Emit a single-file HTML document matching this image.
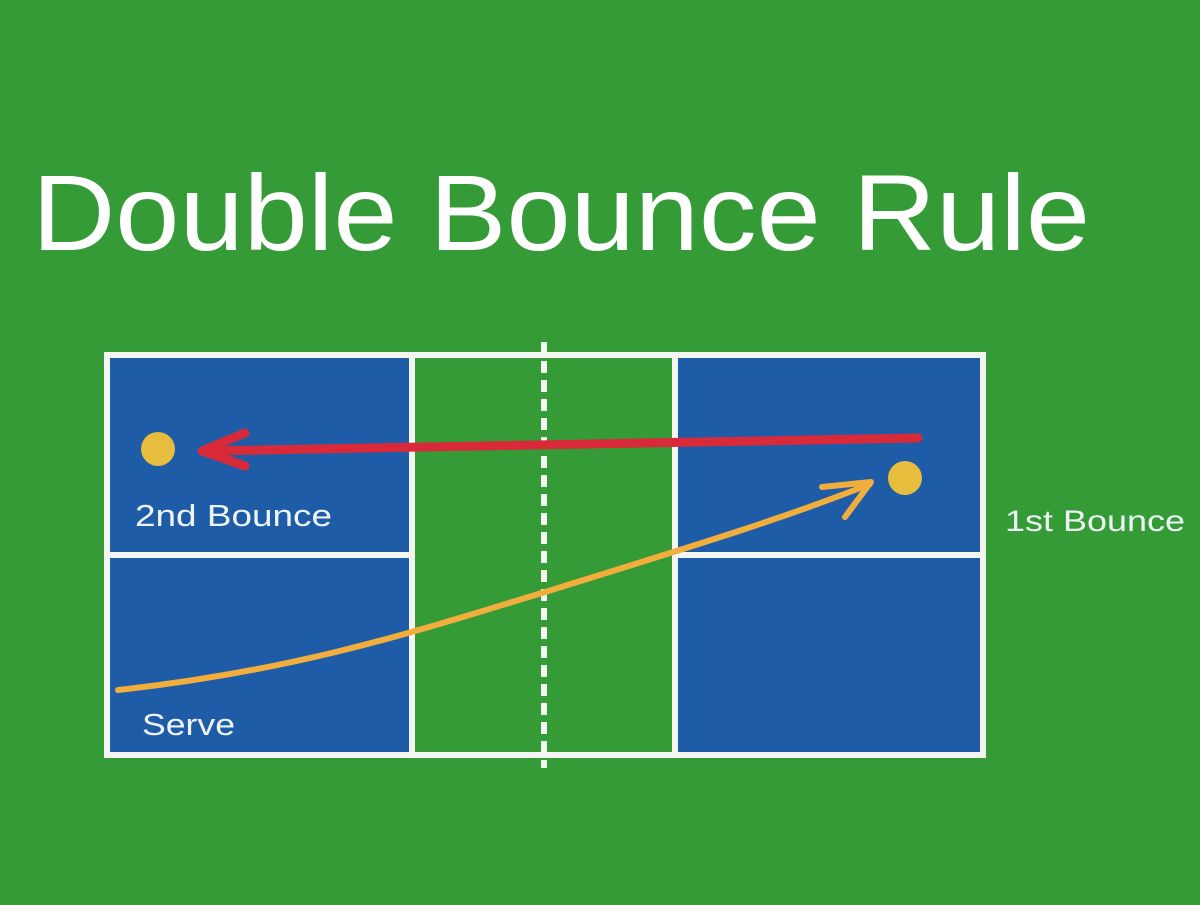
<!DOCTYPE html>
<html><head><style>html,body{margin:0;padding:0;background:#349b36;}</style></head>
<body>
<svg width="1200" height="900" viewBox="0 0 1200 900" xmlns="http://www.w3.org/2000/svg">
<rect width="1200" height="900" fill="#349b36"/>
<text x="32" y="250" font-family="Liberation Sans, sans-serif" font-size="108" fill="#fff" textLength="1058" lengthAdjust="spacingAndGlyphs">Double Bounce Rule</text>
<rect x="107" y="355" width="305" height="400" fill="#1f5ca8"/>
<rect x="675" y="355" width="308" height="400" fill="#1f5ca8"/>
<g stroke="#f4f6f2" stroke-width="6" fill="none">
<rect x="107" y="355" width="876" height="400"/>
<line x1="412" y1="355" x2="412" y2="755"/>
<line x1="675" y1="355" x2="675" y2="755"/>
<line x1="107" y1="555" x2="412" y2="555"/>
<line x1="675" y1="555" x2="983" y2="555"/>
<line x1="544" y1="342" x2="544" y2="768" stroke-dasharray="12,7"/>
</g>
<g stroke="#d92a3a" stroke-width="9" fill="none" stroke-linecap="round" stroke-linejoin="round">
<line x1="918" y1="438" x2="205" y2="451"/>
<polyline points="245,433 202,451 245,466"/>
</g>
<g stroke="#f2ae3c" stroke-width="6" fill="none" stroke-linecap="round" stroke-linejoin="round">
<path d="M118,690 C300,670 420,630 545,592 C680,550 780,520 870,484"/>
<polyline points="822,487 871,482 845,517"/>
</g>
<circle cx="158" cy="449" r="17" fill="#e6bd3c"/>
<circle cx="905" cy="478" r="17" fill="#e6bd3c"/>
<g font-family="Liberation Sans, sans-serif" fill="#eef3f6">
<text x="135" y="526" font-size="31" textLength="197" lengthAdjust="spacingAndGlyphs">2nd Bounce</text>
<text x="1005" y="531" font-size="30" textLength="180" lengthAdjust="spacingAndGlyphs">1st Bounce</text>
<text x="142" y="735" font-size="31" textLength="93" lengthAdjust="spacingAndGlyphs">Serve</text>
</g>
</svg>
</body></html>
